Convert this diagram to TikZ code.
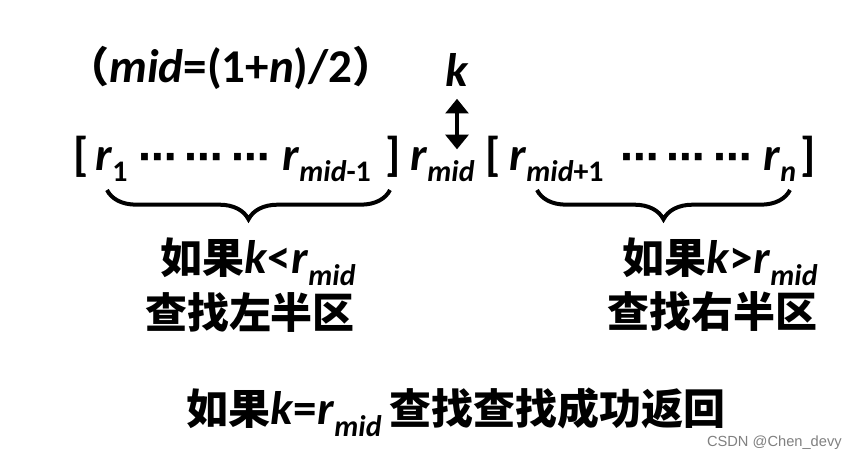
\documentclass[tikz,border=0pt]{standalone}
\usepackage{fontspec}
\setmainfont{Carlito}[Scale=1.12]
\newfontfamily\cjk{Noto Sans CJK SC}
\newfontfamily\symf{DejaVu Sans}
\newfontfamily\wmfont{Liberation Sans}
\usetikzlibrary{arrows.meta}
\usetikzlibrary{positioning}
\usetikzlibrary{decorations.pathreplacing}

\newcommand{\zh}[1]{{\cjk #1}}
\newcommand{\vv}[1]{\textit{#1}}
\newcommand{\rsub}[1]{\raisebox{-0.25em}{\fontsize{20}{20}\selectfont #1}}
\newcommand{\rdots}{{\symf\fontsize{29}{29}\selectfont ⋯\hspace{6pt}⋯\hspace{6pt}⋯}}

\tikzset{
  txt/.style={font=\fontsize{31.5}{38}\selectfont\bfseries, inner sep=0pt},
  elem/.style={txt, anchor=base west},
  brc/.style={decorate, decoration={brace, mirror, amplitude=22pt}, line width=3pt},
  dbl/.style={{Triangle[width=17pt,length=11pt]}-{Triangle[width=17pt,length=11pt]}, line width=3pt}
}

\begin{document}
\begin{tikzpicture}[x=0.75pt,y=-0.75pt]
\useasboundingbox (0,0) rectangle (858,458);

\node[txt] (mid) at (231,68) {\zh{（}\vv{mid}=(1+\vv{n})/2\zh{）}};
\node[txt] (k) at (457,70) {\vv{k}};

% the row
\node[elem] (lb1) at (73,170) {[};
\node[elem] (r1) at (95,170) {\vv{r}\rsub{1}};
\node[elem] (dots1) at (138,170) {\rdots};
\node[elem] (rm1) at (282,170) {\vv{r}\rsub{\vv{mid}-1}};
\node[elem] (rb1) at (385,170) {]};
\node[elem] (rmid) at (410,170) {\vv{r}\rsub{\vv{mid}}};
\node[elem] (lb2) at (485,170) {[};
\node[elem] (rp1) at (509,170) {\vv{r}\rsub{\vv{mid}+1}};
\node[elem] (dots2) at (620,170) {\rdots};
\node[elem] (rn) at (763,170) {\vv{r}\rsub{\vv{n}}};
\node[elem] (rb2) at (800,170) {]};

\draw[dbl, shorten <=9pt, shorten >=-2pt] (k.south) -- (k.south |- rmid.north);

\coordinate (bl1) at (107,190);
\coordinate (bl2) at (390,190);
\coordinate (br1) at (537,190);
\coordinate (br2) at (790,190);

\draw[brc] (bl1) -- (bl2);
\draw[brc] (br1) -- (br2);

\node[txt] (lt1) at (258,262) {\zh{如果}\vv{k}<\vv{r}\rsub{\vv{mid}}};
\node[txt] (lt2) at (250,312) {\zh{查找左半区}};
\node[txt] (rt1) at (720,262) {\zh{如果}\vv{k}>\vv{r}\rsub{\vv{mid}}};
\node[txt] (rt2) at (712,312) {\zh{查找右半区}};

\node[txt] (res) at (456,412) {\zh{如果}\vv{k}=\vv{r}\rsub{\vv{mid}}\hspace{6pt}\zh{查找查找成功返回}};

\node[anchor=base east, inner sep=0pt, text=gray, font=\wmfont\fontsize{11}{11}\selectfont] (wm) at (842,446) {CSDN @Chen\_devy};

\end{tikzpicture}
\end{document}
